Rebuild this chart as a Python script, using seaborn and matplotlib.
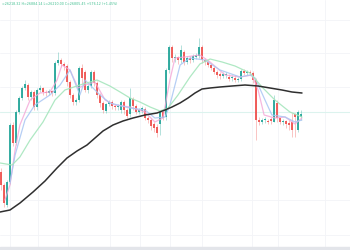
import matplotlib
matplotlib.use("Agg")
import matplotlib.pyplot as plt
import seaborn as sns
import pandas as pd
import numpy as np

# Candles (price units = 250 - screen row), one per bar index
opens = [78, 65, 45, 68, 125, 107, 138, 152, 162, 165, 153, 158, 143, 160, 162, 158, 157, 159,
         157, 187, 190, 186, 184, 168, 155, 148, 150, 182, 178, 160, 164, 178, 167, 155, 147,
         139, 146, 148, 144, 143, 140, 148, 140, 136, 151, 144, 138, 139, 141, 132, 130, 126,
         123, 126, 138, 133, 180, 203, 192, 193, 190, 198, 188, 192, 190, 193, 194, 203, 190,
         188, 185, 182, 178, 176, 174, 175, 173, 172, 172, 170, 171, 179, 177, 178, 177, 170,
         130, 128, 130, 129, 131, 128, 147, 132, 128, 129, 127, 128, 136, 120, 133]
closes = [65, 47, 68, 125, 107, 138, 152, 162, 166, 153, 158, 143, 160, 162, 158, 157, 159, 157,
          187, 190, 186, 184, 168, 155, 148, 150, 182, 172, 160, 164, 178, 167, 155, 147, 140,
          146, 148, 144, 143, 144, 148, 140, 134, 152, 144, 138, 140, 142, 132, 130, 124, 122,
          117, 138, 132, 180, 203, 192, 193, 190, 200, 188, 192, 190, 194, 195, 203, 190, 188,
          185, 182, 178, 175, 174, 176, 175, 171, 172, 170, 171, 179, 177, 178, 177, 170, 130,
          128, 130, 131, 128, 129, 150, 132, 128, 129, 126, 125, 120, 133, 138, 136]
highs = [82, 67, 70, 127, 128, 140, 154, 164, 170, 167, 160, 160, 162, 165, 163, 160, 161, 160,
         189, 198, 192, 188, 186, 170, 157, 152, 184, 186, 180, 166, 180, 180, 169, 157, 149,
         147, 150, 150, 146, 146, 150, 150, 142, 162, 153, 146, 142, 144, 143, 134, 132, 128,
         126, 140, 140, 182, 205, 205, 196, 194, 205, 200, 194, 194, 196, 197, 212, 205, 192,
         190, 187, 184, 180, 178, 178, 178, 176, 175, 175, 173, 181, 181, 180, 180, 179, 172,
         133, 132, 133, 131, 133, 155, 150, 131, 131, 130, 130, 137, 137, 140, 140]
lows = [60, 43, 43, 66, 104, 105, 136, 150, 160, 150, 150, 140, 140, 158, 155, 154, 155, 154,
        155, 185, 183, 180, 164, 152, 145, 145, 148, 166, 158, 157, 162, 164, 152, 143, 137,
        137, 144, 141, 140, 140, 137, 136, 132, 133, 140, 136, 136, 137, 130, 127, 120, 118,
        113, 115, 130, 130, 177, 188, 188, 186, 187, 185, 186, 187, 188, 191, 192, 187, 185,
        183, 180, 176, 172, 171, 172, 172, 169, 169, 168, 168, 169, 175, 175, 175, 167, 110,
        125, 126, 127, 126, 126, 128, 128, 126, 125, 122, 120, 113, 113, 118, 130]

# Moving averages: (bar index, value)
ma_long_idx = [-0.33, 3, 6.33, 10.67, 14.67, 18.67, 22, 25.33, 28.67, 31.33, 34, 37.33, 40.67,
               44, 48, 52, 54.67, 57, 59.67, 62.33, 64.67, 67, 69.67, 73, 77, 81.33, 85.67,
               89.67, 93.67, 97, 100.33]
ma_long_val = [38, 40, 47, 58, 69, 82, 92, 99, 105, 112, 119, 125, 129, 132, 135, 137, 140, 143,
               147, 152, 157, 161, 162, 163, 164, 165, 164, 162, 160, 158, 157]
ma_green_idx = [-0.3, 3.7, 6.3, 9.7, 14, 18, 21.3, 26.3, 32, 36.3, 39.7, 43, 46.3, 49.7, 53, 55.7, 59,
                63, 66.3, 69.7, 73.7, 78, 83, 87, 91.3, 96.3, 100.3]
ma_green_val = [87, 85, 93, 110, 128, 150, 160, 165, 170, 164, 158, 152, 148, 143, 139, 142, 155,
                173, 186, 191, 188, 184, 177, 163, 150, 138, 133]
ma_blue_idx = [3, 4.7, 8, 11.3, 16.3, 19.7, 23, 26.3, 28, 33, 36.3, 43, 48, 51.3, 54.7, 56.3, 59.7,
               63, 68, 73, 79.7, 83, 84.7, 88, 90.3, 94.7, 98, 100.3]
ma_blue_val = [67, 95, 130, 145, 155, 165, 180, 155, 170, 155, 147, 142, 140, 132, 133, 145, 185,
               192, 190, 180, 173, 175, 172, 150, 135, 133, 128, 130]
ma_pink_idx = [1.3, 3, 4.7, 6.3, 9.7, 13, 16.3, 18.7, 20.3, 23, 25.7, 28, 31.3, 34.7, 38, 43, 48,
               51.3, 54, 56.3, 58, 61.3, 66.3, 69.7, 74.7, 79.7, 83.7, 85.7, 87.7, 91.3, 94.7,
               98, 100.3]
ma_pink_val = [50, 65, 100, 125, 150, 157, 158, 170, 185, 180, 162, 165, 168, 150, 145, 143, 138,
               128, 132, 170, 192, 193, 195, 188, 175, 173, 175, 160, 135, 132, 133, 126, 132]

last_price = 138
header = "=26218.32 H=26884.14 L=26210.00 C=26805.45 +576.12 (+1.45%)"

up_col = "#26a69a"
dn_col = "#ef5350"

sns.set_theme(style="white")
fig = plt.figure(figsize=(3.5, 2.5), dpi=100)
ax = fig.add_axes([0, 0, 1, 1])
ax.set_xlim(-1 / 3, 349 / 3)
ax.set_ylim(0, 250)
ax.axis("off")
fig.patch.set_facecolor("white")

# faint grid
for gx in [3, 12.3, 22.3, 36.3, 46.3, 56.3, 67, 83.7, 92.3, 108]:
    ax.axvline(gx, color="#f3f4f7", lw=0.6, zorder=0)
for gy in [230, 197, 163, 85, 50, 15]:
    ax.axhline(gy, color="#f3f4f7", lw=0.6, zorder=0)
ax.axhspan(0, 3, color="#e3e5ea", zorder=0)

# last-price line
ax.axhline(last_price, color="#dcf3ee", lw=0.8, zorder=1)

df = pd.DataFrame({"o": opens, "c": closes, "h": highs, "l": lows})
df["i"] = np.arange(len(df))
up = df["c"] >= df["o"]
for mask, col in [(up, up_col), (~up, dn_col)]:
    d = df[mask]
    ax.vlines(d["i"], d["l"], d["h"], color=col, lw=0.6, alpha=0.4, zorder=2)
    ax.bar(d["i"], (d["c"] - d["o"]).abs().clip(lower=0.8),
           bottom=np.minimum(d["o"], d["c"]), width=0.78, color=col, alpha=0.92,
           linewidth=0, zorder=3)

sns.lineplot(x=ma_pink_idx, y=ma_pink_val, ax=ax, color="#f4a6d7", lw=0.9, alpha=0.8, zorder=4)
sns.lineplot(x=ma_blue_idx, y=ma_blue_val, ax=ax, color="#a9c6f3", lw=0.9, alpha=0.85, zorder=4)
sns.lineplot(x=ma_green_idx, y=ma_green_val, ax=ax, color="#a6e6bd", lw=0.9, alpha=0.9, zorder=4)
sns.lineplot(x=ma_long_idx, y=ma_long_val, ax=ax, color="#2f2f2f", lw=1.1, zorder=5)

ax.text(0.006, 0.983, header, transform=ax.transAxes, fontsize=2.3, color="#3fbf8f",
        ha="left", va="center")

ax.set_xlim(-1 / 3, 349 / 3)
ax.set_ylim(0, 250)
fig.savefig("out.png", dpi=100, facecolor="white")
